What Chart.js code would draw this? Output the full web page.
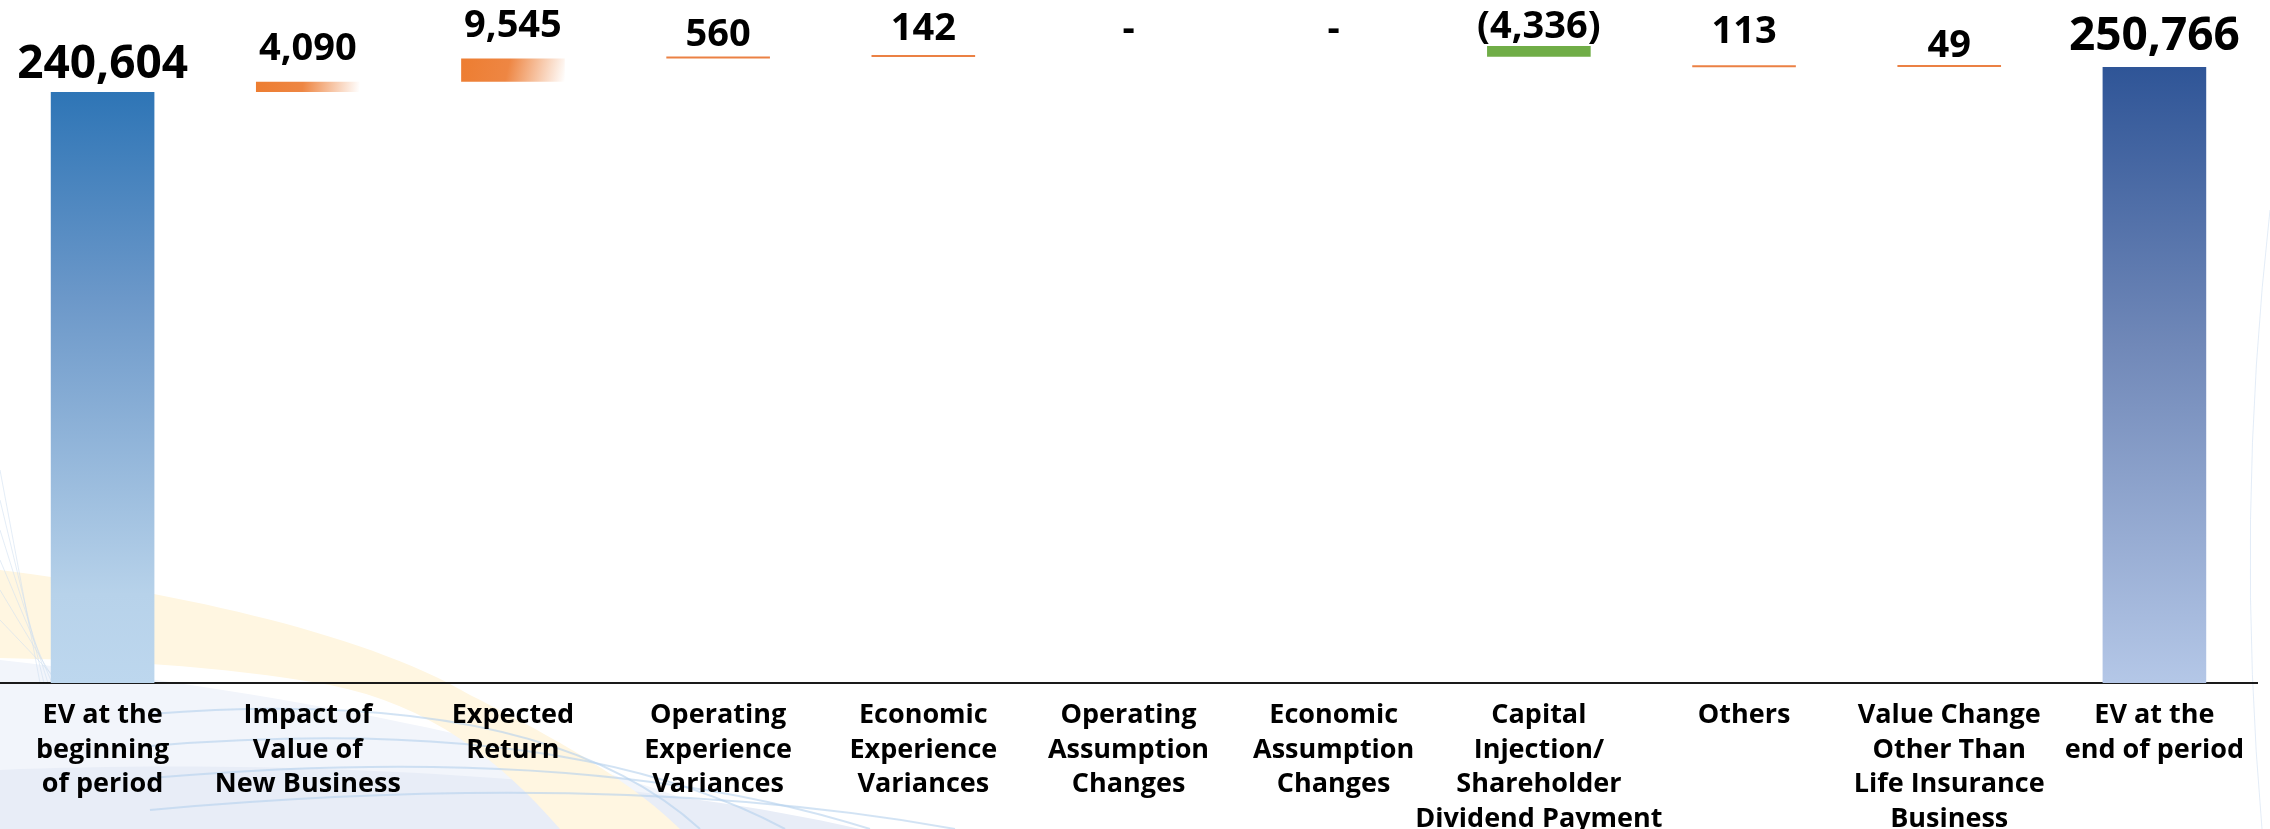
<!DOCTYPE html>
<html>
<head>
<meta charset="utf-8">
<title>EV movement</title>
<script src="https://cdn.jsdelivr.net/npm/chart.js@4.4.1/dist/chart.umd.min.js"></script>
<style>
  html, body { margin: 0; padding: 0; background: #fff; }
  canvas { display: block; }
</style>
</head>
<body>
<canvas id="evChart" width="2270" height="829"></canvas>
<script>
// categories along the bottom (multi-line labels)
var categories = [
    ['EV at the', 'beginning', 'of period'],
    ['Impact of', 'Value of', 'New Business'],
    ['Expected', 'Return'],
    ['Operating', 'Experience', 'Variances'],
    ['Economic', 'Experience', 'Variances'],
    ['Operating', 'Assumption', 'Changes'],
    ['Economic', 'Assumption', 'Changes'],
    ['Capital', 'Injection/', 'Shareholder', 'Dividend Payment'],
    ['Others'],
    ['Value Change', 'Other Than', 'Life Insurance', 'Business'],
    ['EV at the', 'end of period']
];

// movement values (RMB million)
var movements = [240604, 4090, 9545, 560, 142, 0, 0, -4336, 113, 49, 250766];

// start / up / down / end
var barKinds = ['start', 'up', 'up', 'up', 'up', 'up', 'up', 'down', 'up', 'up', 'end'];

// gap in px between the top of each bar and the baseline of its value
var labelGap = [14, 22, 21, 11, 17, 16, 16, 8, 24, 10, 17];

function fmt(v) {
    if (v === 0) return '-';
    if (v < 0) return '(' + Math.abs(v).toLocaleString('en-US') + ')';
    return v.toLocaleString('en-US');
}

// build floating bars for the waterfall
var running = 0;
var levels = [];
var barData = movements.map(function(v, i) {
    var kind = barKinds[i];
    var bar;
    if (kind === 'start' || kind === 'end') {
        bar = [0, v];
        running = v;
    } else if (v === 0) {
        bar = null;
    } else if (kind === 'down') {
        // decreases sit on top of the running level
        bar = [running, running - v];
        running += v;
    } else {
        bar = [running, running + v];
        running += v;
    }
    levels.push(bar ? Math.max(bar[0], bar[1]) : running);
    return bar;
});

var BAR_PCT = 0.505;

var solid = { start: '#6C98C9', end: '#7088B8', up: '#EB8144', down: '#70AD47' };

function barFill(context) {
    var chart = context.chart;
    var i = context.dataIndex;
    var kind = barKinds[i];
    var x = chart.scales.x, y = chart.scales.y;
    var raw = barData[i];
    if (kind === 'down' || !x || !y || !raw || context.type !== 'data') return solid[kind];
    var top = y.getPixelForValue(Math.max(raw[0], raw[1]));
    var bottom = y.getPixelForValue(Math.min(raw[0], raw[1]));
    var cx = x.getPixelForValue(i);
    if (!isFinite(top) || !isFinite(bottom) || !isFinite(cx) || bottom - top < 3) return solid[kind];
    var c = chart.ctx;
    var g;
    if (kind === 'start') {
        g = c.createLinearGradient(0, top, 0, bottom);
        g.addColorStop(0, '#2E75B6');
        g.addColorStop(0.35, '#6C98C9');
        g.addColorStop(0.85, '#B7D2EA');
        g.addColorStop(1, '#BDD7EE');
        return g;
    }
    if (kind === 'end') {
        g = c.createLinearGradient(0, top, 0, bottom);
        g.addColorStop(0, '#2F5597');
        g.addColorStop(0.45, '#7088B8');
        g.addColorStop(1, '#B4C7E7');
        return g;
    }
    var half = (x.right - x.left) / categories.length * BAR_PCT / 2;
    g = c.createLinearGradient(cx - half, top, cx + half, bottom);
    g.addColorStop(0, '#ED7D31');
    g.addColorStop(0.45, '#EE8643');
    g.addColorStop(1, '#FFFFFF');
    return g;
}

// light slide backdrop: yellow swoosh, pale blue ground and thin arcs
var backdrop = {
    id: 'backdrop',
    beforeDraw: function(chart) {
        var c = chart.ctx;
        var W = chart.width, H = chart.height;
        c.save();
        c.fillStyle = '#ffffff';
        c.fillRect(0, 0, W, H);

        c.fillStyle = '#F2F5FB';
        c.beginPath();
        c.moveTo(0, 660);
        c.bezierCurveTo(260, 690, 560, 740, 760, 829);
        c.lineTo(0, H);
        c.closePath();
        c.fill();

        c.fillStyle = '#E8EDF7';
        c.beginPath();
        c.moveTo(0, 770);
        c.bezierCurveTo(250, 760, 600, 770, 860, 829);
        c.lineTo(0, H);
        c.closePath();
        c.fill();

        c.fillStyle = '#FFF6E1';
        c.beginPath();
        c.moveTo(0, 570);
        c.bezierCurveTo(160, 590, 360, 630, 470, 695);
        c.bezierCurveTo(580, 750, 640, 790, 680, 829);
        c.lineTo(560, 829);
        c.bezierCurveTo(500, 760, 430, 705, 330, 685);
        c.bezierCurveTo(220, 665, 100, 660, 0, 658);
        c.closePath();
        c.fill();

        c.strokeStyle = 'rgba(180, 208, 236, 0.6)';
        c.lineWidth = 2;
        for (var k = 0; k < 4; k++) {
            c.beginPath();
            c.moveTo(150, 714 + k * 32);
            c.quadraticCurveTo(540 + k * 25, 684 + k * 28, 700 + k * 85, 829);
            c.stroke();
        }

        c.strokeStyle = 'rgba(205, 222, 240, 0.55)';
        c.lineWidth = 1;
        for (var j = 0; j < 6; j++) {
            c.beginPath();
            c.moveTo(0, 470 + j * 30);
            c.lineTo(40 + j * 4, 683);
            c.stroke();
        }

        c.strokeStyle = 'rgba(215, 228, 244, 0.7)';
        c.beginPath();
        c.moveTo(2270, 210);
        c.quadraticCurveTo(2235, 520, 2262, 829);
        c.stroke();
        c.restore();
    }
};

// value labels above each bar
var valueLabels = {
    id: 'valueLabels',
    afterDatasetsDraw: function(chart) {
        var c = chart.ctx;
        var x = chart.scales.x, y = chart.scales.y;
        c.save();
        c.fillStyle = '#000';
        c.textAlign = 'center';
        c.textBaseline = 'alphabetic';
        movements.forEach(function(v, i) {
            var big = barKinds[i] === 'start' || barKinds[i] === 'end';
            c.font = 'bold ' + (big ? 46 : 38) + 'px "Open Sans"';
            var top = y.getPixelForValue(levels[i]);
            c.fillText(fmt(v), x.getPixelForValue(i), top - labelGap[i]);
        });
        c.restore();
    }
};

var ctx = document.getElementById('evChart').getContext('2d');

var evChart = new Chart(ctx, {
    type: 'bar',
    data: {
        labels: categories,
        datasets: [{
            data: barData,
            backgroundColor: barFill,
            borderWidth: 0,
            minBarLength: 2,
            categoryPercentage: 1,
            barPercentage: BAR_PCT
        }]
    },
    options: {
        responsive: false,
        animation: false,
        devicePixelRatio: 1,
        layout: { padding: { left: 0, right: 13, top: 0, bottom: 0 } },
        plugins: {
            legend: { display: false },
            tooltip: { enabled: false }
        },
        scales: {
            x: {
                grid: { display: false, drawTicks: false },
                border: { display: true, color: '#1a1a1a', width: 2 },
                ticks: {
                    color: '#000',
                    padding: 15,
                    autoSkip: false,
                    maxRotation: 0,
                    font: { family: '"Open Sans"', size: 27, weight: 'bold', lineHeight: 1.28 }
                },
                afterFit: function(scale) { scale.height = 146; }
            },
            y: {
                display: false,
                min: 0,
                max: 278000
            }
        }
    },
    plugins: [backdrop, valueLabels]
});
</script>
</body>
</html>
